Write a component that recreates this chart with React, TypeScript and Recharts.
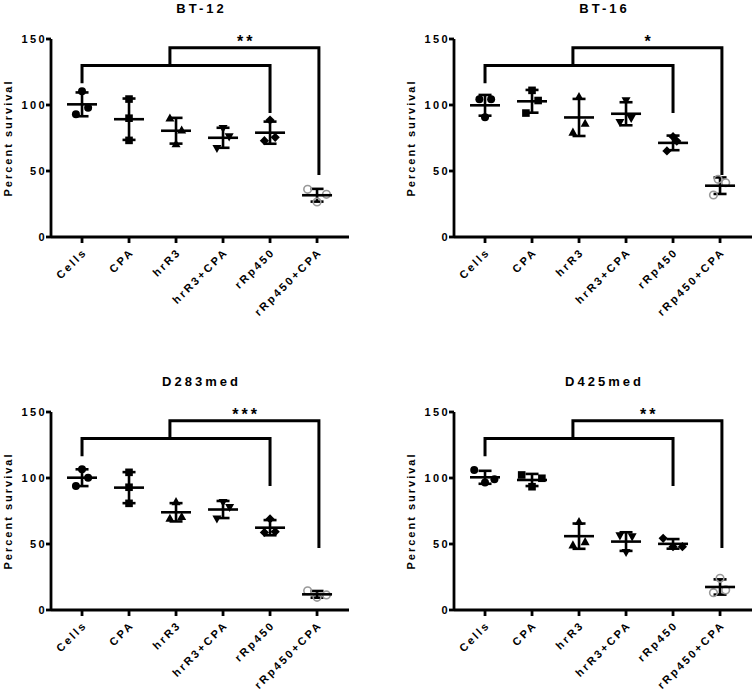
import { ComposedChart, ErrorBar, Line, Scatter, XAxis, YAxis } from 'recharts'

const FONT = 'Arial, "Liberation Sans", Helvetica, sans-serif'

const groups = ['Cells', 'CPA', 'hrR3', 'hrR3+CPA', 'rRp450', 'rRp450+CPA']
const markers = ['circle', 'square', 'triangle', 'triangleDown', 'diamond', 'openCircle']
const yTicks = [0, 50, 100, 150]
const xTicks = [0, 1, 2, 3, 4, 5]

// replicate values (percent survival), one row per group
const bt12Values = [
  [110.5, 93, 98],
  [104.5, 90, 73.2],
  [90, 81, 70.5],
  [82.3, 76, 67.2],
  [88.6, 73, 75.5],
  [36.1, 32.3, 26.5],
]
const bt12Jitter = [
  [0, -0.13, 0.13],
  [0, 0, 0],
  [-0.13, 0.12, 0],
  [0, 0.13, -0.13],
  [0, -0.12, 0.11],
  [-0.2, 0.2, 0],
]

const bt16Values = [
  [104.3, 104.3, 90.7],
  [111.1, 103.4, 93.9],
  [106.3, 86.1, 79.3],
  [103.3, 86.9, 89.9],
  [65.2, 72.7, 76],
  [43.7, 41.1, 31.8],
]
const bt16Jitter = [
  [-0.12, 0.13, 0],
  [0, 0.13, -0.13],
  [0, 0.13, -0.13],
  [0, -0.13, 0.11],
  [-0.13, 0.08, 0],
  [-0.04, 0.12, -0.14],
]

const d283Values = [
  [106.6, 100.2, 93.9],
  [104.3, 93, 80.8],
  [82, 69.4, 70.7],
  [81.6, 77.8, 69],
  [69, 58.8, 59.3],
  [14.6, 9.6, 11.4],
]
const d283Jitter = [
  [0, 0.13, -0.13],
  [0, 0, 0],
  [0, -0.13, 0.12],
  [0, 0.14, -0.13],
  [0, -0.12, 0.11],
  [-0.2, 0, 0.2],
]

const d425Values = [
  [106, 96.5, 99.1],
  [102.3, 99.8, 93.4],
  [66.9, 49.2, 51.7],
  [56.3, 55.5, 43.7],
  [54.3, 48, 48],
  [24, 13.1, 15.2],
]
const d425Jitter = [
  [-0.23, 0, 0.2],
  [-0.22, 0.21, 0],
  [0, -0.13, 0.13],
  [-0.13, 0.13, 0],
  [-0.21, 0, 0.2],
  [0, -0.14, 0.12],
]

// significance brackets (shared by all panels)
const innerBracketX = [0, 0, 4, 4]
const innerBracketY = [116.5, 130, 130, 94]
const outerBracketX = [1.87, 1.87, 5.04, 5.04]
const outerBracketY = [130, 143.3, 143.3, 47]
const starsX = 3.46

function Marker({ cx, cy, kind }: { cx: number; cy: number; kind: string }) {
  const s = 4.2
  if (kind === 'circle') return <circle cx={cx} cy={cy} r={4} fill="#000" />
  if (kind === 'square') return <rect x={cx - 3.8} y={cy - 3.8} width={7.6} height={7.6} fill="#000" />
  if (kind === 'triangle')
    return <polygon points={`${cx},${cy - s - 0.5} ${cx - s - 0.3},${cy + s - 0.8} ${cx + s + 0.3},${cy + s - 0.8}`} fill="#000" />
  if (kind === 'triangleDown')
    return <polygon points={`${cx},${cy + s + 0.5} ${cx - s - 0.3},${cy - s + 0.8} ${cx + s + 0.3},${cy - s + 0.8}`} fill="#000" />
  if (kind === 'diamond')
    return <polygon points={`${cx},${cy - s - 0.4} ${cx + s + 0.4},${cy} ${cx},${cy + s + 0.4} ${cx - s - 0.4},${cy}`} fill="#000" />
  return <circle cx={cx} cy={cy} r={3.8} fill="#fff" fillOpacity={0} stroke="#999" strokeWidth={1.6} />
}

function YTick({ x, y, payload }: any) {
  return (
    <text x={x + 3} y={y} dy="0.36em" textAnchor="end" fontFamily={FONT} fontSize={11} fontWeight={700} letterSpacing={2.4} fill="#000">
      {payload.value}
    </text>
  )
}

function XTick({ x, y, payload }: any) {
  return (
    <g transform={`translate(${x + 3},${y + 5})`}>
      <text transform="rotate(-45)" textAnchor="end" dy="0.35em" fontFamily={FONT} fontSize={11} fontWeight={700} letterSpacing={2.4} fill="#000">
        {groups[payload.value]}
      </text>
    </g>
  )
}

function mean(v: number[]) {
  return v.reduce((a, b) => a + b, 0) / v.length
}
function sd(v: number[]) {
  const m = mean(v)
  return Math.sqrt(v.reduce((a, b) => a + (b - m) * (b - m), 0) / (v.length - 1))
}

interface PanelProps {
  title: string
  values: number[][]
  jitter: number[][]
  stars: string
  left: number
  top: number
}

function SurvivalPanel({ title, values, jitter, stars, left, top }: PanelProps) {
  const summary = values.map((v, i) => ({ x: i, y: mean(v), sd: sd(v) }))
  const inner = innerBracketX.map((x, i) => ({ x, y: innerBracketY[i] }))
  const outer = outerBracketX.map((x, i) => ({ x, y: outerBracketY[i] }))
  const starPoint = [{ x: starsX, y: outerBracketY[1] }]

  return (
    <div style={{ position: 'absolute', left, top, width: 353, height: 324 }}>
      <div
        style={{
          position: 'absolute',
          left: 51,
          top: 0,
          width: 298,
          lineHeight: '18px',
          textAlign: 'center',
          fontFamily: FONT,
          fontWeight: 700,
          fontSize: 13,
          letterSpacing: 3,
          paddingLeft: 3,
          boxSizing: 'border-box',
        }}
      >
        {title}
      </div>
      <div
        style={{
          position: 'absolute',
          left: 8 - 100,
          top: 138 - 8,
          width: 200,
          height: 16,
          lineHeight: '16px',
          textAlign: 'center',
          transform: 'rotate(-90deg)',
          fontFamily: FONT,
          fontWeight: 700,
          fontSize: 11,
          letterSpacing: 2,
        }}
      >
        Percent survival
      </div>
      <ComposedChart width={353} height={324} margin={{ top: 39, right: 4, left: 0, bottom: 0 }} style={{ position: 'absolute', left: 0, top: 0 }}>
        <XAxis
          type="number"
          dataKey="x"
          domain={[-0.66, 5.68]}
          ticks={xTicks}
          interval={0}
          height={87}
          tickSize={6}
          tickMargin={2}
          stroke="#000"
          strokeWidth={2.8}
          tick={<XTick />}
        />
        <YAxis
          type="number"
          dataKey="y"
          domain={[0, 150]}
          ticks={yTicks}
          width={51}
          tickSize={5}
          tickMargin={2}
          stroke="#000"
          strokeWidth={2.8}
          tick={<YTick />}
        />
        <Line data={inner} dataKey="y" type="linear" stroke="#000" strokeWidth={3} dot={false} activeDot={false} isAnimationActive={false} />
        <Line data={outer} dataKey="y" type="linear" stroke="#000" strokeWidth={3} dot={false} activeDot={false} isAnimationActive={false} />
        {values.map((v, gi) => (
          <Scatter
            key={groups[gi]}
            data={v.map((y, k) => ({ x: gi + jitter[gi][k], y }))}
            isAnimationActive={false}
            shape={(p: any) => <Marker cx={p.cx} cy={p.cy} kind={markers[gi]} />}
          />
        ))}
        <Scatter
          data={summary}
          isAnimationActive={false}
          shape={(p: any) => <line x1={p.cx - 15} x2={p.cx + 15} y1={p.cy} y2={p.cy} stroke="#000" strokeWidth={2.6} />}
        >
          <ErrorBar dataKey="sd" direction="y" width={6.5} stroke="#000" strokeWidth={2.6} isAnimationActive={false} />
        </Scatter>
        <Scatter
          data={starPoint}
          isAnimationActive={false}
          shape={(p: any) => (
            <text x={p.cx + 1.5} y={p.cy - 1} textAnchor="middle" fontFamily={FONT} fontSize={16} fontWeight={700} letterSpacing={3} fill="#000">
              {stars}
            </text>
          )}
        />
      </ComposedChart>
    </div>
  )
}

export default function App() {
  return (
    <div style={{ position: 'absolute', left: 0, top: 0, width: 756, height: 697, background: '#fff' }}>
      <SurvivalPanel title="BT-12" values={bt12Values} jitter={bt12Jitter} stars="**" left={0} top={0} />
      <SurvivalPanel title="BT-16" values={bt16Values} jitter={bt16Jitter} stars="*" left={403} top={0} />
      <SurvivalPanel title="D283med" values={d283Values} jitter={d283Jitter} stars="***" left={0} top={373} />
      <SurvivalPanel title="D425med" values={d425Values} jitter={d425Jitter} stars="**" left={403} top={373} />
    </div>
  )
}
